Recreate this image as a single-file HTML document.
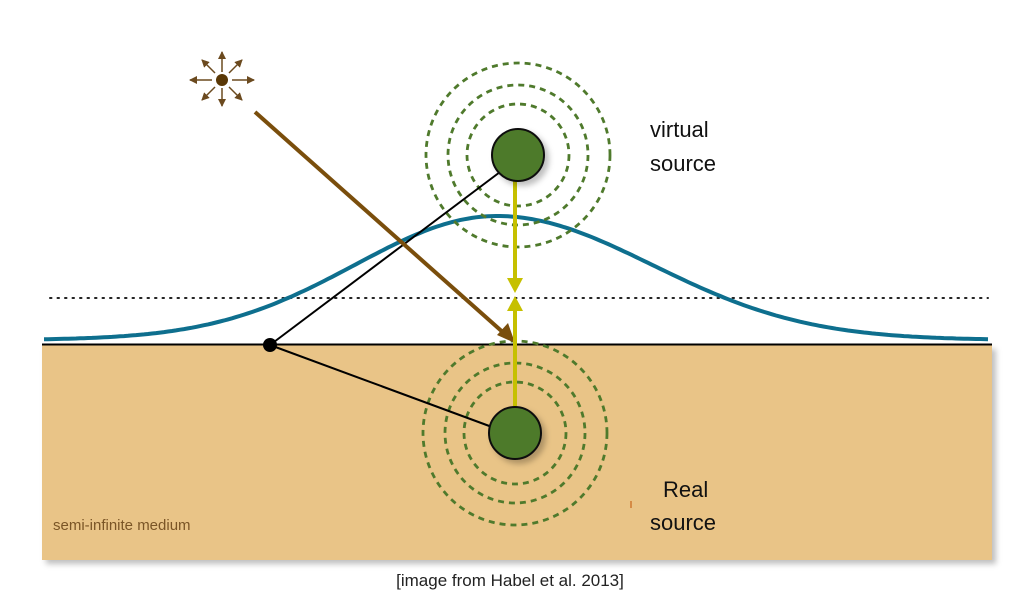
<!DOCTYPE html>
<html><head><meta charset="utf-8"><style>
html,body{margin:0;padding:0;background:#fff;}
svg{display:block;}
text{font-family:"Liberation Sans",sans-serif;}
</style></head><body>
<svg width="1024" height="601" viewBox="0 0 1024 601" xmlns="http://www.w3.org/2000/svg">
<defs>
<filter id="sh" x="-10%" y="-10%" width="130%" height="130%"><feDropShadow dx="4" dy="4" stdDeviation="3" flood-color="#000" flood-opacity="0.25"/></filter>
<marker id="ab" markerWidth="8" markerHeight="8" refX="7" refY="4" orient="auto" markerUnits="userSpaceOnUse"><path d="M0,0 L8,4 L0,8 z" fill="#6b4a1f"/></marker>
</defs>
<rect x="42" y="345" width="950" height="215" fill="#e9c487" filter="url(#sh)"/>
<line x1="42" y1="344.5" x2="992" y2="344.5" stroke="#000" stroke-width="2"/>
<line x1="50" y1="298" x2="988" y2="298" stroke="#222" stroke-width="2" stroke-dasharray="1.5 6" stroke-linecap="round"/>
<path id="g" d="" fill="none" stroke="#0e6f8e" stroke-width="4"/>
<script>
(function(){var d="";for(var x=44;x<=988;x+=4){var s=x<497?142:155;var y=340-124*Math.exp(-(x-497)*(x-497)/(2*s*s));d+=(x==44?"M":"L")+x+","+y.toFixed(1)+" ";}document.getElementById("g").setAttribute("d",d);})();
</script>
<!-- sun -->
<g stroke="#6b4a1f" stroke-width="1.5" marker-end="url(#ab)">
<line x1="222" y1="72" x2="222" y2="52"/>
<line x1="222" y1="88" x2="222" y2="106"/>
<line x1="212" y1="80" x2="190" y2="80"/>
<line x1="232" y1="80" x2="254" y2="80"/>
<line x1="215" y1="73" x2="202" y2="60"/>
<line x1="229" y1="73" x2="242" y2="60"/>
<line x1="215" y1="87" x2="202" y2="100"/>
<line x1="229" y1="87" x2="242" y2="100"/>
</g>
<circle cx="222" cy="80" r="6" fill="#5a3806"/>
<!-- dashed circles -->
<g fill="none" stroke="#4f7a2c" stroke-width="2.8" stroke-dasharray="6 5">
<circle cx="518" cy="155" r="92"/><circle cx="518" cy="155" r="70"/><circle cx="518" cy="155" r="51"/>
<circle cx="515" cy="433" r="92"/><circle cx="515" cy="433" r="70"/><circle cx="515" cy="433" r="51"/>
</g>
<!-- black lines -->
<line x1="270" y1="345" x2="500" y2="172" stroke="#000" stroke-width="2"/>
<line x1="270" y1="345" x2="492" y2="427" stroke="#000" stroke-width="2"/>
<circle cx="270" cy="345" r="7" fill="#000"/>
<!-- brown arrow -->
<line x1="255" y1="112" x2="506" y2="335" stroke="#7a4e0c" stroke-width="4"/>
<path d="M515,343 L497,335 L508,323 z" fill="#7a4e0c"/>
<!-- yellow -->
<line x1="515" y1="180" x2="515" y2="282" stroke="#c6c000" stroke-width="4"/>
<path d="M507,278 L523,278 L515,293 z" fill="#c6c000"/>
<line x1="515" y1="308" x2="515" y2="410" stroke="#c6c000" stroke-width="4"/>
<path d="M507,311 L523,311 L515,296 z" fill="#c6c000"/>
<!-- sources -->
<circle cx="518" cy="155" r="26" fill="#4e7a29" stroke="#111" stroke-width="2" filter="url(#sh)"/>
<circle cx="515" cy="433" r="26" fill="#4e7a29" stroke="#111" stroke-width="2" filter="url(#sh)"/>
<line x1="631" y1="501" x2="631" y2="508" stroke="#c8651a" stroke-width="1.2"/>
<text x="650" y="137" font-size="22" fill="#111">virtual</text>
<text x="650" y="171" font-size="22" fill="#111">source</text>
<text x="663" y="497" font-size="22" fill="#111">Real</text>
<text x="650" y="530" font-size="22" fill="#111">source</text>
<text x="53" y="530" font-size="15" fill="#7a5526">semi-infinite medium</text>
<text x="510" y="586" font-size="17" fill="#222" text-anchor="middle">[image from Habel et al. 2013]</text>
</svg>
</body></html>
